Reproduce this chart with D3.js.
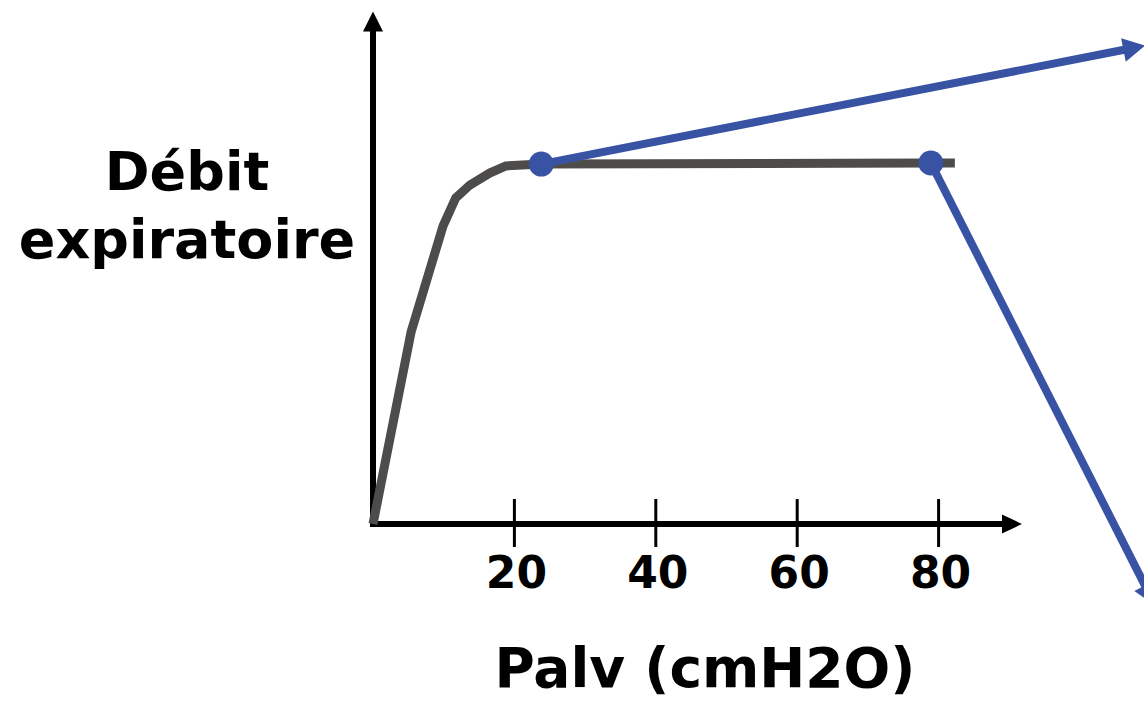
<!DOCTYPE html>
<html>
<head>
<meta charset="utf-8">
<script src="https://cdn.jsdelivr.net/npm/d3@7"></script>
<style>
  html, body { margin: 0; padding: 0; background: #fff; }
  svg { display: block; }
  text { font-family: "DejaVu Sans", sans-serif; font-weight: bold; fill: #000; }
</style>
</head>
<body>
<script>
// Pression alvéolaire (cmH2O) et débit expiratoire (unités arbitraires)
const palv  = [0, 5.4, 9.9, 11.7, 13.7, 16.5, 18.8, 23.8, 78.9, 82.3];
const debit = [0, 5.33, 8.25, 9.03, 9.39, 9.72, 9.92, 9.97, 10.0, 10.0];

// Points de limitation du débit
const dotX = [23.8, 78.9];
const dotY = [9.97, 10.0];

// Flèches partant de ces points
const arrowStartX = [23.8, 78.9];
const arrowStartY = [9.97, 10.0];
const arrowEndX   = [109.2, 110.6];
const arrowEndY   = [13.25, -2.25];

const tickValues = [20, 40, 60, 80];
const xAxisMax = 91.8;
const yAxisMax = 14.2;

const W = 1144, H = 701;
const svg = d3.select("body").append("svg").attr("width", W).attr("height", H);

const x = d3.scaleLinear().domain([0, 80]).range([373, 938.6]);
const y = d3.scaleLinear().domain([0, 10]).range([524, 163]);

function arrowHead(g, x1, y1, x2, y2, len, half, color) {
  const a = Math.atan2(y2 - y1, x2 - x1);
  const bx = x2 - len * Math.cos(a), by = y2 - len * Math.sin(a);
  const px = -Math.sin(a) * half, py = Math.cos(a) * half;
  g.append("path")
    .attr("d", `M${x2},${y2}L${bx + px},${by + py}L${bx - px},${by - py}Z`)
    .attr("fill", color);
  return [x2 - (len - 2) * Math.cos(a), y2 - (len - 2) * Math.sin(a)];
}

// Axes
const axes = svg.append("g");
const x0 = x(0), y0 = y(0);
const yTop = y(yAxisMax), xRight = x(xAxisMax);
let e = arrowHead(axes, x0, y0, x0, yTop, 20, 10, "#000");
axes.append("line").attr("x1", x0).attr("y1", y0 + 3).attr("x2", e[0]).attr("y2", e[1])
  .attr("stroke", "#000").attr("stroke-width", 6);
e = arrowHead(axes, x0, y0, xRight, y0, 20, 9.5, "#000");
axes.append("line").attr("x1", x0 - 3).attr("y1", y0).attr("x2", e[0]).attr("y2", e[1])
  .attr("stroke", "#000").attr("stroke-width", 6);

// Graduations
axes.selectAll("line.tick").data(tickValues).join("line")
  .attr("class", "tick")
  .attr("x1", d => x(d)).attr("x2", d => x(d))
  .attr("y1", y0 - 25).attr("y2", y0 + 23)
  .attr("stroke", "#000").attr("stroke-width", 3);
axes.selectAll("text.tl").data(tickValues).join("text")
  .attr("class", "tl")
  .attr("x", d => x(d) + 2).attr("y", 588)
  .attr("text-anchor", "middle")
  .attr("font-size", 44)
  .text(d => d);

// Courbe débit-pression
const line = d3.line().x((d, i) => x(palv[i])).y((d, i) => y(debit[i]));
svg.append("path").datum(palv).attr("d", line)
  .attr("fill", "none").attr("stroke", "#4d4c4a").attr("stroke-width", 9)
  .attr("stroke-linejoin", "miter");

// Flèches bleues
const blue = "#3953a4";
const arrows = svg.append("g");
arrowStartX.forEach((sx, i) => {
  const x1 = x(sx), y1 = y(arrowStartY[i]);
  const x2 = x(arrowEndX[i]), y2 = y(arrowEndY[i]);
  const end = arrowHead(arrows, x1, y1, x2, y2, 22, 12, blue);
  arrows.append("line").attr("x1", x1).attr("y1", y1).attr("x2", end[0]).attr("y2", end[1])
    .attr("stroke", blue).attr("stroke-width", 8);
});

svg.selectAll("circle.pt").data(dotX).join("circle")
  .attr("class", "pt")
  .attr("cx", d => x(d)).attr("cy", (d, i) => y(dotY[i]))
  .attr("r", 12.5).attr("fill", blue);

// Titres des axes
svg.append("text").attr("x", 187).attr("y", 190).attr("text-anchor", "middle")
  .attr("font-size", 54).text("Débit");
svg.append("text").attr("x", 187).attr("y", 258).attr("text-anchor", "middle")
  .attr("font-size", 54).text("expiratoire");
svg.append("text").attr("x", 705).attr("y", 687).attr("text-anchor", "middle")
  .attr("font-size", 55).text("Palv (cmH2O)");
</script>
</body>
</html>
